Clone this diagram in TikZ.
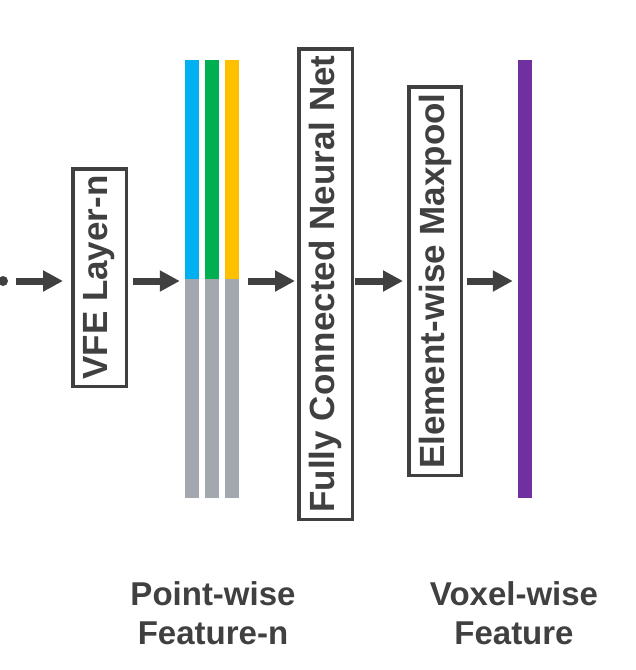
\documentclass[tikz,border=0pt]{standalone}
\usepackage{fontspec}
\setmainfont{Liberation Sans}
\usetikzlibrary{arrows.meta}
\definecolor{dk}{HTML}{404040}
\definecolor{cblue}{HTML}{00B0F0}
\definecolor{cgreen}{HTML}{00B050}
\definecolor{cyellow}{HTML}{FFC000}
\definecolor{cgray}{HTML}{A3A8AF}
\definecolor{cpurple}{HTML}{7030A0}
\begin{document}
\begin{tikzpicture}[x=1pt,y=-1pt,
  arr/.style={draw=dk, line width=7pt, -{Triangle[length=20pt,width=20pt]}},
  box/.style={draw=dk, line width=3.5pt, rotate=90, inner sep=0pt, text=dk,
    font=\bfseries\fontsize{35}{40}\selectfont},
  bar/.style={fill=#1, draw=none, inner sep=0pt, minimum width=14pt},
  lbl/.style={text=dk, align=center, font=\bfseries\fontsize{33}{39}\selectfont}]
\useasboundingbox (0,0) rectangle (636,670);
\clip (0,0) rectangle (636,670);
\coordinate (axis) at (0,281);
\node[circle, fill=dk, minimum size=10pt, inner sep=0pt] (dot) at (3,281) {};
\node[box, minimum width=217.5pt, minimum height=53.5pt] (vfe) at (99.5,277.5) {VFE Layer-n};
% point-wise feature bars
\node[bar=cblue, minimum height=219pt] (b1c) at (192,169.5) {};
\node[bar=cgray, minimum height=219pt] (b1g) at (192,388.5) {};
\node[bar=cgreen, minimum height=219pt] (b2c) at (211.5,169.5) {};
\node[bar=cgray, minimum height=219pt] (b2g) at (211.5,388.5) {};
\node[bar=cyellow, minimum height=219pt] (b3c) at (231.5,169.5) {};
\node[bar=cgray, minimum height=219pt] (b3g) at (231.5,388.5) {};
\node[box, minimum width=470.5pt, minimum height=53.5pt] (fc) at (325.5,284) {Fully Connected Neural Net};
\node[box, minimum width=388.5pt, minimum height=52.5pt] (mp) at (435,281) {Element-wise Maxpool};
\node[bar=cpurple, minimum height=438pt] (vw) at (525,279) {};
% arrows (rotated boxes: north = left side, south = right side)
\draw[arr, shorten <=8pt, shorten >=8pt] (dot.east) -- (vfe.north |- axis);
\draw[arr, shorten <=5pt, shorten >=5pt] (vfe.south |- axis) -- (b1c.west |- axis);
\draw[arr, shorten <=9pt, shorten >=2pt] (b3c.east |- axis) -- (fc.north |- axis);
\draw[arr, shorten <=1pt, shorten >=4pt] (fc.south |- axis) -- (mp.north |- axis);
\draw[arr, shorten <=4pt, shorten >=5pt] (mp.south |- axis) -- (vw.west |- axis);
% labels
\node[lbl, anchor=base] (pwl) at (213,644) {Point-wise\\Feature-n};
\node[lbl, anchor=base] (vwl) at (514,644) {Voxel-wise\\Feature};
\end{tikzpicture}
\end{document}
